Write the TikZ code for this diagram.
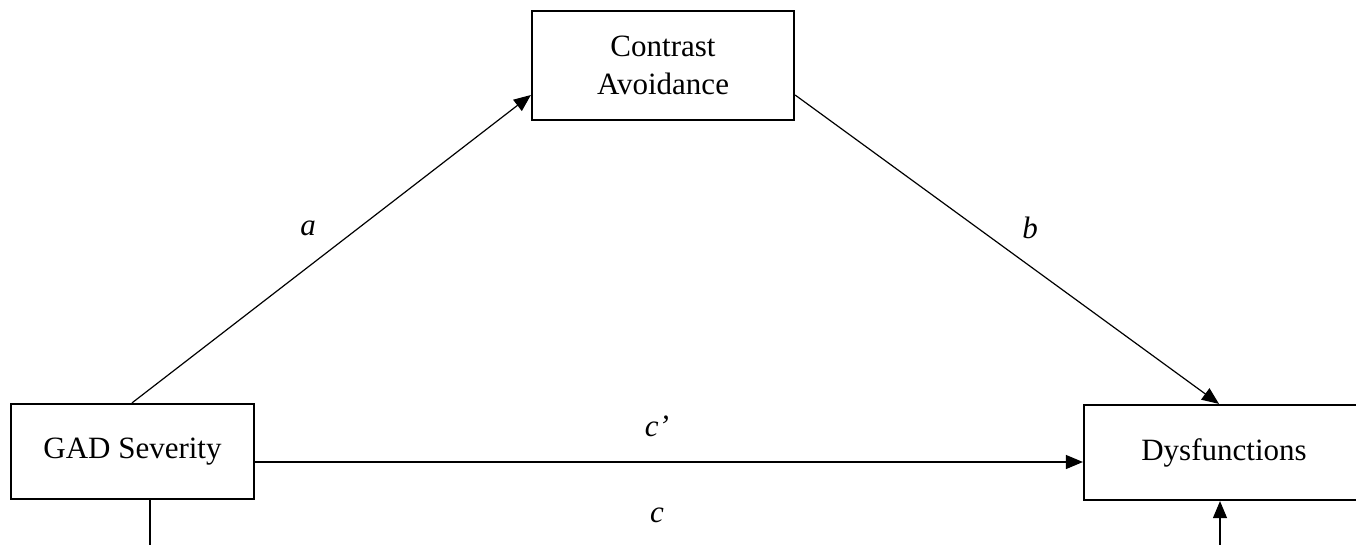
\documentclass[tikz,border=0pt]{standalone}
\usepackage{fontspec}
\setmainfont{Liberation Serif}
\usetikzlibrary{arrows.meta}
\begin{document}
\begin{tikzpicture}[x=1pt,y=-1pt,
  box/.style={draw, line width=2.2pt, rectangle, align=center, inner sep=0pt,
    font=\fontsize{31}{38}\selectfont},
  conn/.style={line width=1.2pt},
  arr/.style={conn, -{Triangle[length=17pt,width=14pt]}},
  lab/.style={font=\fontsize{31}{38}\selectfont\itshape}]
\useasboundingbox (0,0) rectangle (1356,544);
\clip (0,0) rectangle (1356,544);
\node[box, minimum width=262pt, minimum height=109pt] (ca) at (663,65.5) {Contrast\\Avoidance};
\node[box, minimum width=243pt, minimum height=95pt] (gad) at (132.5,451.5) {GAD Severity};
\node[box, minimum width=280pt, minimum height=95pt] (dys) at (1224,452.5) {Dysfunctions};
\coordinate (ya) at (0,95);
\coordinate (yh) at (0,462);
\coordinate (xa) at (132,0);
\coordinate (xb) at (1219,0);
\coordinate (bl) at (150,560);
\coordinate (br) at (1220,560);
\draw[arr] (gad.north -| xa) -- (ca.west |- ya);
\draw[arr] (ca.east |- ya) -- (dys.north -| xb);
\draw[arr] (gad.east |- yh) -- (dys.west |- yh);
\draw[conn] (gad.south -| bl) -- (bl);
\draw[arr] (br) -- (dys.south -| br);
\node[lab] (la) at (308,228) {a};
\node[lab] (lb) at (1030,228) {b};
\node[lab] (lcp) at (657,426) {c\textquoteright};
\node[lab] (lc) at (657,515) {c};
\end{tikzpicture}
\end{document}
